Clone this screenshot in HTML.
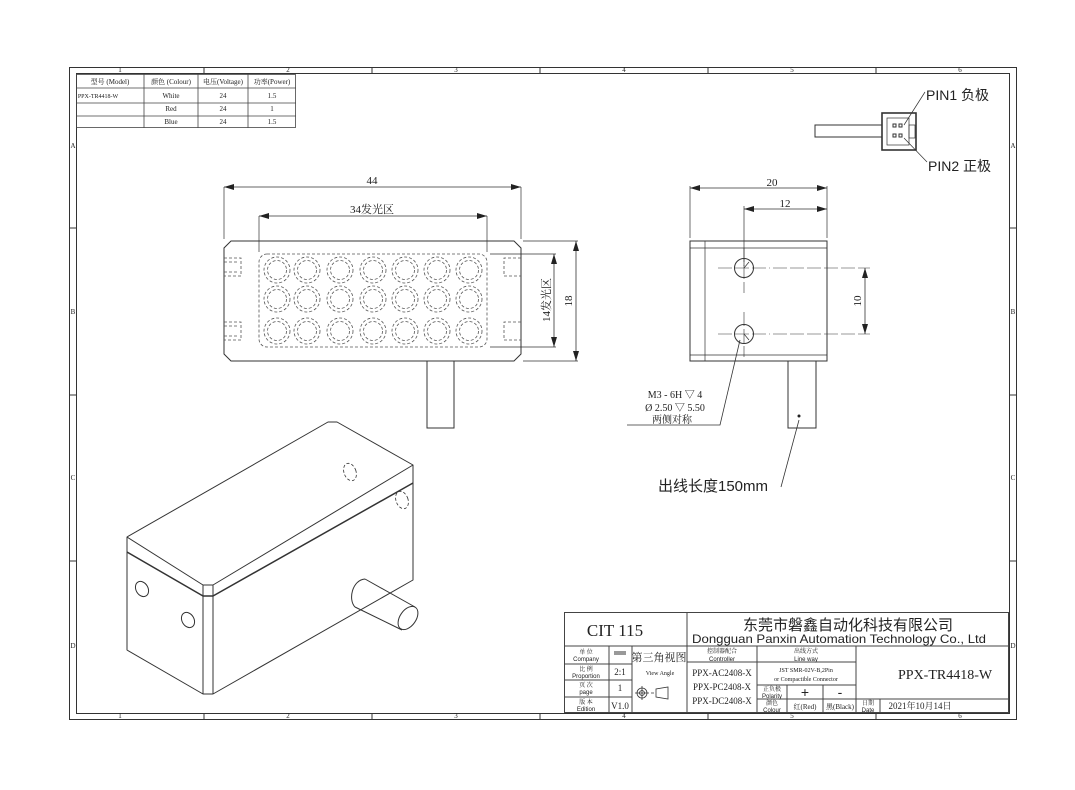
<!DOCTYPE html>
<html><head><meta charset="utf-8"><style>
html,body{margin:0;padding:0;background:#fff;}
svg{display:block;}
text{font-family:"Liberation Serif","Noto Serif CJK SC",serif;fill:#222;}
.s{font-family:"Liberation Sans","Noto Sans CJK SC",sans-serif;}
</style></head><body>
<svg width="1075" height="790" viewBox="0 0 1075 790" xmlns="http://www.w3.org/2000/svg">
<defs>
<marker id="a" viewBox="0 0 10 6" refX="10" refY="3" markerWidth="10" markerHeight="6" orient="auto-start-reverse" markerUnits="userSpaceOnUse"><path d="M0,0 L10,3 L0,6 z" fill="#222"/></marker>
</defs>
<rect width="1075" height="790" fill="#fff"/>
<g fill="none" stroke="#333" stroke-width="1">
<rect x="69.5" y="67.5" width="947" height="652"/>
<rect x="76.5" y="73.5" width="933" height="640"/>
<path d="M204 67v6M372 67v6M540 67v6M708 67v6M876 67v6M204 713v6M372 713v6M540 713v6M708 713v6M876 713v6M69 228h7M69 395h7M69 561h7M1009 228h7M1009 395h7M1009 561h7"/>
</g>
<g font-size="7" class="s" text-anchor="middle">
<text x="120" y="72">1</text><text x="288" y="72">2</text><text x="456" y="72">3</text><text x="624" y="72">4</text><text x="792" y="72">5</text><text x="960" y="72">6</text>
<text x="120" y="718">1</text><text x="288" y="718">2</text><text x="456" y="718">3</text><text x="624" y="718">4</text><text x="792" y="718">5</text><text x="960" y="718">6</text>
<text x="73" y="148">A</text><text x="73" y="314">B</text><text x="73" y="480">C</text><text x="73" y="648">D</text>
<text x="1013" y="148">A</text><text x="1013" y="314">B</text><text x="1013" y="480">C</text><text x="1013" y="648">D</text>
</g>
<g fill="none" stroke="#444" stroke-width="0.8">
<rect x="76.5" y="74.5" width="219" height="53"/>
<path d="M76 88h220M76 103h220M76 116h220M144 74v54M198 74v54M248 74v54"/>
</g>
<g font-size="7" class="s" text-anchor="middle">
<text x="110" y="84">型号 (Model)</text><text x="171" y="84">颜色 (Colour)</text><text x="223" y="84">电压(Voltage)</text><text x="272" y="84">功率(Power)</text>
<text x="98" y="98" font-size="6">PPX-TR4418-W</text>
<text x="171" y="98">White</text><text x="223" y="98">24</text><text x="272" y="98">1.5</text>
<text x="171" y="111">Red</text><text x="223" y="111">24</text><text x="272" y="111">1</text>
<text x="171" y="124">Blue</text><text x="223" y="124">24</text><text x="272" y="124">1.5</text>
</g>
<g fill="none" stroke="#333" stroke-width="1">
<path d="M231 241H514L521 248V354L514 361H231L224 354V248Z"/>
<rect x="427" y="361" width="27" height="67"/>
<path d="M224 187v52M521 187v52M259 216v36M487 216v36M523 241h55M490 254h66M490 347h66M523 361h55" stroke-width="0.7"/>
<path d="M224 187H521" marker-start="url(#a)" marker-end="url(#a)" stroke-width="0.8"/>
<path d="M259 216H487" marker-start="url(#a)" marker-end="url(#a)" stroke-width="0.8"/>
<path d="M554 254V347" marker-start="url(#a)" marker-end="url(#a)" stroke-width="0.8"/>
<path d="M576 241V361" marker-start="url(#a)" marker-end="url(#a)" stroke-width="0.8"/>
</g>
<g fill="none" stroke="#555" stroke-width="0.8" stroke-dasharray="3,2">
<rect x="259" y="254" width="228" height="93" rx="8"/>
<path d="M224 258h17v18h-17M224 262h13M224 272h13M224 322h17v18h-17M224 326h13M224 336h13M521 258h-17v18h17M521 322h-17v18h17"/>
<g id="leds">
<circle cx="277" cy="270" r="13"/><circle cx="277" cy="270" r="9.5"/>
<circle cx="307" cy="270" r="13"/><circle cx="307" cy="270" r="9.5"/>
<circle cx="340" cy="270" r="13"/><circle cx="340" cy="270" r="9.5"/>
<circle cx="373" cy="270" r="13"/><circle cx="373" cy="270" r="9.5"/>
<circle cx="405" cy="270" r="13"/><circle cx="405" cy="270" r="9.5"/>
<circle cx="437" cy="270" r="13"/><circle cx="437" cy="270" r="9.5"/>
<circle cx="469" cy="270" r="13"/><circle cx="469" cy="270" r="9.5"/>
</g>
<use href="#leds" y="29"/>
<use href="#leds" y="61"/>
</g>
<g font-size="11" text-anchor="middle">
<text x="372" y="184">44</text>
<text x="372" y="213">34发光区</text>
<text transform="translate(550 300) rotate(-90)">14发光区</text>
<text transform="translate(572 301) rotate(-90)">18</text>
</g>
<g fill="none" stroke="#333" stroke-width="1">
<rect x="690" y="241" width="137" height="120"/>
<path d="M705 241v120M690 248h137M690 355h137" stroke-width="0.7"/>
<circle cx="744" cy="268" r="9.5"/><circle cx="744" cy="334" r="9.5"/>
<path d="M744 268l5-6M744 334l5 6" stroke-width="0.7"/>
<rect x="788" y="361" width="28" height="67"/>
<path d="M690 186v52M827 186v52M744 206v60" stroke-width="0.7"/>
<path d="M690 188H827" marker-start="url(#a)" marker-end="url(#a)" stroke-width="0.8"/>
<path d="M744 209H827" marker-start="url(#a)" marker-end="url(#a)" stroke-width="0.8"/>
<path d="M865 268V334" marker-start="url(#a)" marker-end="url(#a)" stroke-width="0.8"/>
<path d="M718 268h52M773 268h97M718 334h52M773 334h97M744 248v45M744 312v45" stroke-width="0.6" stroke-dasharray="14,3"/>
<path d="M740 340L720 425H627M799 420L781 487" stroke-width="0.8"/>
</g>
<circle cx="799" cy="416" r="1.5" fill="#222"/>
<g font-size="11" text-anchor="middle">
<text x="772" y="186">20</text><text x="785" y="207">12</text>
<text transform="translate(861 301) rotate(-90)">10</text>
<text x="675" y="398" font-size="10">M3 - 6H ▽ 4</text>
<text x="675" y="411" font-size="10">Ø 2.50 ▽ 5.50</text>
<text x="672" y="423" font-size="10">两侧对称</text>
</g>
<text x="658" y="491" font-size="15" class="s">出线长度150mm</text>
<g fill="none" stroke="#333" stroke-width="1">
<rect x="815" y="125" width="67" height="12"/>
<rect x="882" y="113" width="34" height="37" stroke-width="1.6"/>
<rect x="887" y="118" width="22" height="27" stroke-width="0.7"/>
<rect x="909" y="125" width="6" height="13" stroke-width="0.7"/>
<rect x="893" y="124" width="3" height="3"/><rect x="899" y="124" width="3" height="3"/>
<rect x="893" y="134" width="3" height="3"/><rect x="899" y="134" width="3" height="3"/>
<path d="M904 125L925 92M904 138L927 162" stroke-width="0.7"/>
</g>
<text x="926" y="100" font-size="14" class="s">PIN1 负极</text>
<text x="928" y="171" font-size="14" class="s">PIN2 正极</text>
<g fill="none" stroke="#333" stroke-width="1" stroke-linejoin="round">
<path d="M127 537L328 422H337L413 465V580L213 694H203L127 650Z"/>
<path d="M127 537L203 585H213L413 465"/>
<path d="M127 552L203 596H213L413 483" stroke-width="1.5"/>
<path d="M203 585V694M213 585V694"/>
<ellipse cx="142" cy="589" rx="6" ry="8" transform="rotate(-30 142 589)"/>
<ellipse cx="188" cy="620" rx="6" ry="8" transform="rotate(-30 188 620)"/>
<ellipse cx="350" cy="472" rx="6" ry="9" transform="rotate(-20 350 472)" stroke-dasharray="3,2" stroke-width="0.8"/>
<ellipse cx="402" cy="500" rx="6" ry="9" transform="rotate(-20 402 500)" stroke-dasharray="3,2" stroke-width="0.8"/>
<path d="M365 579L415 607M355 607L402 630M365 579C352 580 348 600 355 607"/>
<ellipse cx="408" cy="618" rx="8" ry="13" transform="rotate(35 408 618)"/>
</g>
<g fill="none" stroke="#444" stroke-width="1">
<rect x="564.5" y="612.5" width="444" height="100"/>
<path d="M687 612v101M564 646h445M609 646v67M632 646v67M757 646v67M856 646v67M564 664h68M564 680h68M564 697h68M687 662h169M757 685h99M757 699h252M787 685v28M823 685v28M880 699v14"/>
</g>
<text x="615" y="636" font-size="17" text-anchor="middle">CIT 115</text>
<text x="848" y="630" font-size="15" text-anchor="middle" class="s">东莞市磐鑫自动化科技有限公司</text>
<text x="692" y="643" font-size="12" class="s" textLength="294" lengthAdjust="spacingAndGlyphs">Dongguan Panxin Automation Technology Co., Ltd</text>
<g font-size="6" text-anchor="middle">
<text x="586" y="654">单 位</text><text x="586" y="661" class="s">Company</text>
<text x="586" y="671">比 例</text><text x="586" y="678" class="s">Proportion</text>
<text x="586" y="687">页 次</text><text x="586" y="694" class="s">page</text>
<text x="586" y="704">版 本</text><text x="586" y="711" class="s">Edition</text>
<text x="722" y="653">控制器配合</text><text x="722" y="661" class="s">Controller</text>
<text x="806" y="653">出线方式</text><text x="806" y="661" class="s">Line way</text>
<text x="806" y="672">JST SMR-02V-B,2Pin</text><text x="806" y="681">or Compactible Connector</text>
<text x="772" y="691">正负极</text><text x="772" y="698" class="s">Polarity</text>
<text x="772" y="705">颜色</text><text x="772" y="712" class="s">Colour</text>
<text x="868" y="705">日期</text><text x="868" y="712" class="s">Date</text>
<text x="660" y="675">View Angle</text>
</g>
<g font-size="9" text-anchor="middle">
<text x="620" y="675">2:1</text><text x="620" y="691">1</text><text x="620" y="709">V1.0</text>
<text x="722" y="676">PPX-AC2408-X</text><text x="722" y="690">PPX-PC2408-X</text><text x="722" y="704">PPX-DC2408-X</text>
<text x="805" y="709" font-size="7">红(Red)</text><text x="840" y="709" font-size="7">黑(Black)</text>
<text x="920" y="709">2021年10月14日</text>
</g>
<rect x="614" y="651" width="12" height="4" fill="#999"/>
<text x="659" y="661" font-size="11" text-anchor="middle">第三角视图</text>
<text x="805" y="697" font-size="14" text-anchor="middle" class="s">+</text>
<text x="840" y="697" font-size="14" text-anchor="middle" class="s">-</text>
<text x="898" y="679" font-size="14">PPX-TR4418-W</text>
<g fill="none" stroke="#333" stroke-width="0.8">
<circle cx="642" cy="693" r="5"/><circle cx="642" cy="693" r="2.5"/><path d="M635 693h14M642 686v14M651 693h3M656 689v8l12 2v-12z"/>
</g>
</svg>
</body></html>
